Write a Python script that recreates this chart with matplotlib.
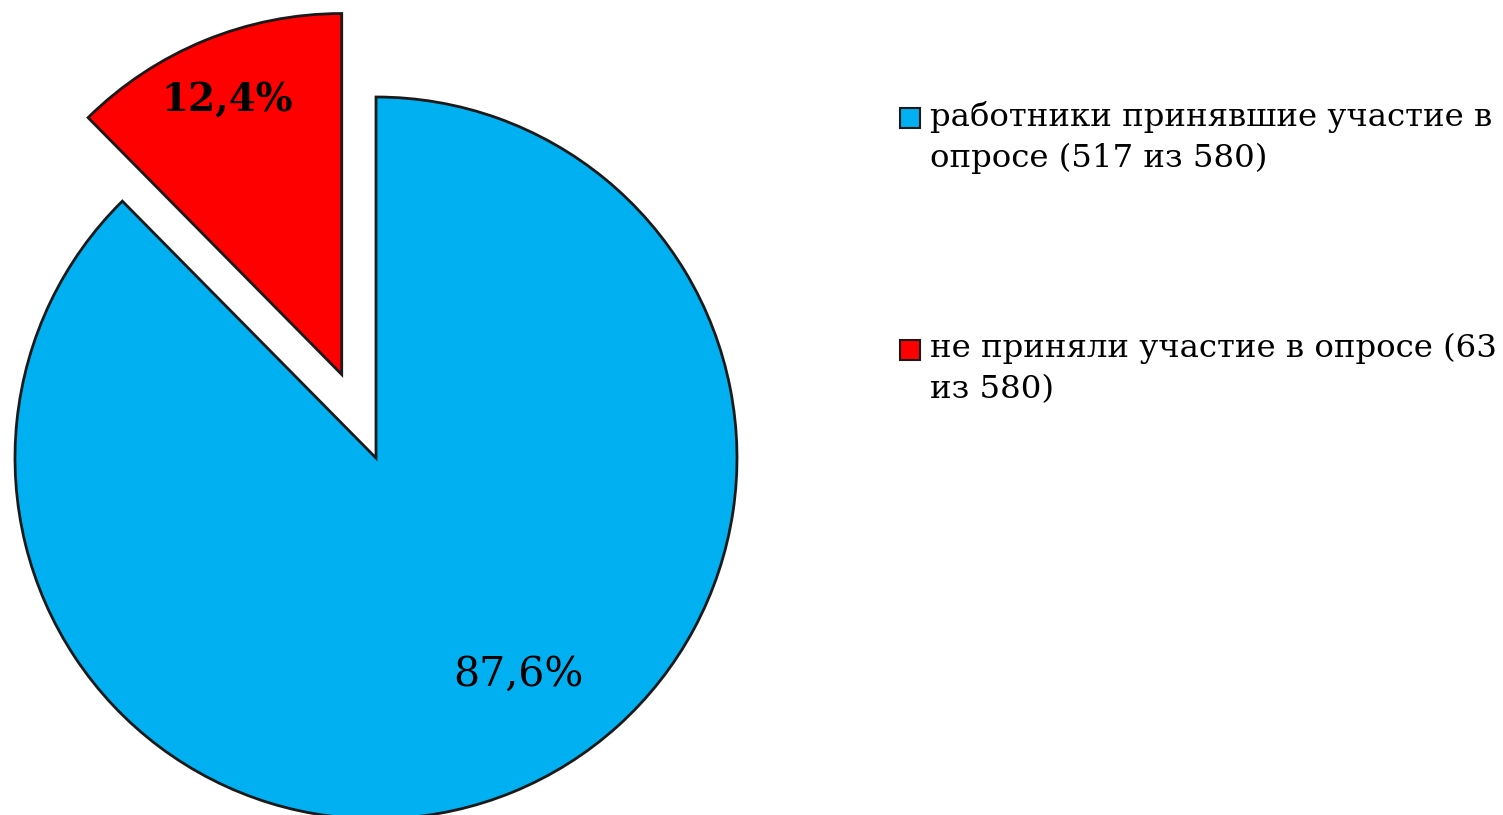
import matplotlib.pyplot as plt
from matplotlib.patches import Rectangle

# data
shares = [87.6, 12.4]
pct_labels = ['87,6%', '12,4%']
legend_labels = ['работники принявшие участие в\nопросе (517 из 580)',
                 'не приняли участие в опросе (63\nиз 580)']
colors = ['#00B0F0', '#FF0000']
explode_frac = [0, 0.25]

W, H = 1503, 815
R = 361
plt.rcParams['font.family'] = ['DejaVu Serif']

fig = plt.figure(figsize=(W / 100, H / 100), dpi=100)
ax = fig.add_axes([0, 0, 1, 1])
ax.axis('off')

# pie in pixel units (y up); explode is absolute in data units here
wedges, _ = ax.pie(shares, colors=colors, explode=[e * R for e in explode_frac],
                   startangle=90, counterclock=False, center=(376, H - 458),
                   radius=R, wedgeprops=dict(edgecolor='#1a1a1a', linewidth=2))
ax.set_xlim(0, W)
ax.set_ylim(0, H)
ax.set_aspect('equal')

# percent labels
label_pos = [(518, H - 675), (227, H - 100)]
for txt, (x, y), sz, w in zip(pct_labels, label_pos, [29.5, 28], ['normal', 'bold']):
    ax.text(x, y, txt, ha='center', va='center', fontsize=sz,
            fontweight=w, color='black')

# legend drawn by hand so the square sits on the first line
legend_top = [118, 350]
for lab, col, yc in zip(legend_labels, colors, legend_top):
    fig.patches.append(Rectangle((900 / W, 1 - (yc + 10) / H), 20 / W, 20 / H,
                                 transform=fig.transFigure, facecolor=col,
                                 edgecolor='#1a1a1a', linewidth=1.5))
    fig.text(930 / W, 1 - (yc - 17) / H, lab, ha='left', va='top',
             fontsize=23.3, linespacing=1.4, color='black')

fig.savefig('out.png', dpi=100)
